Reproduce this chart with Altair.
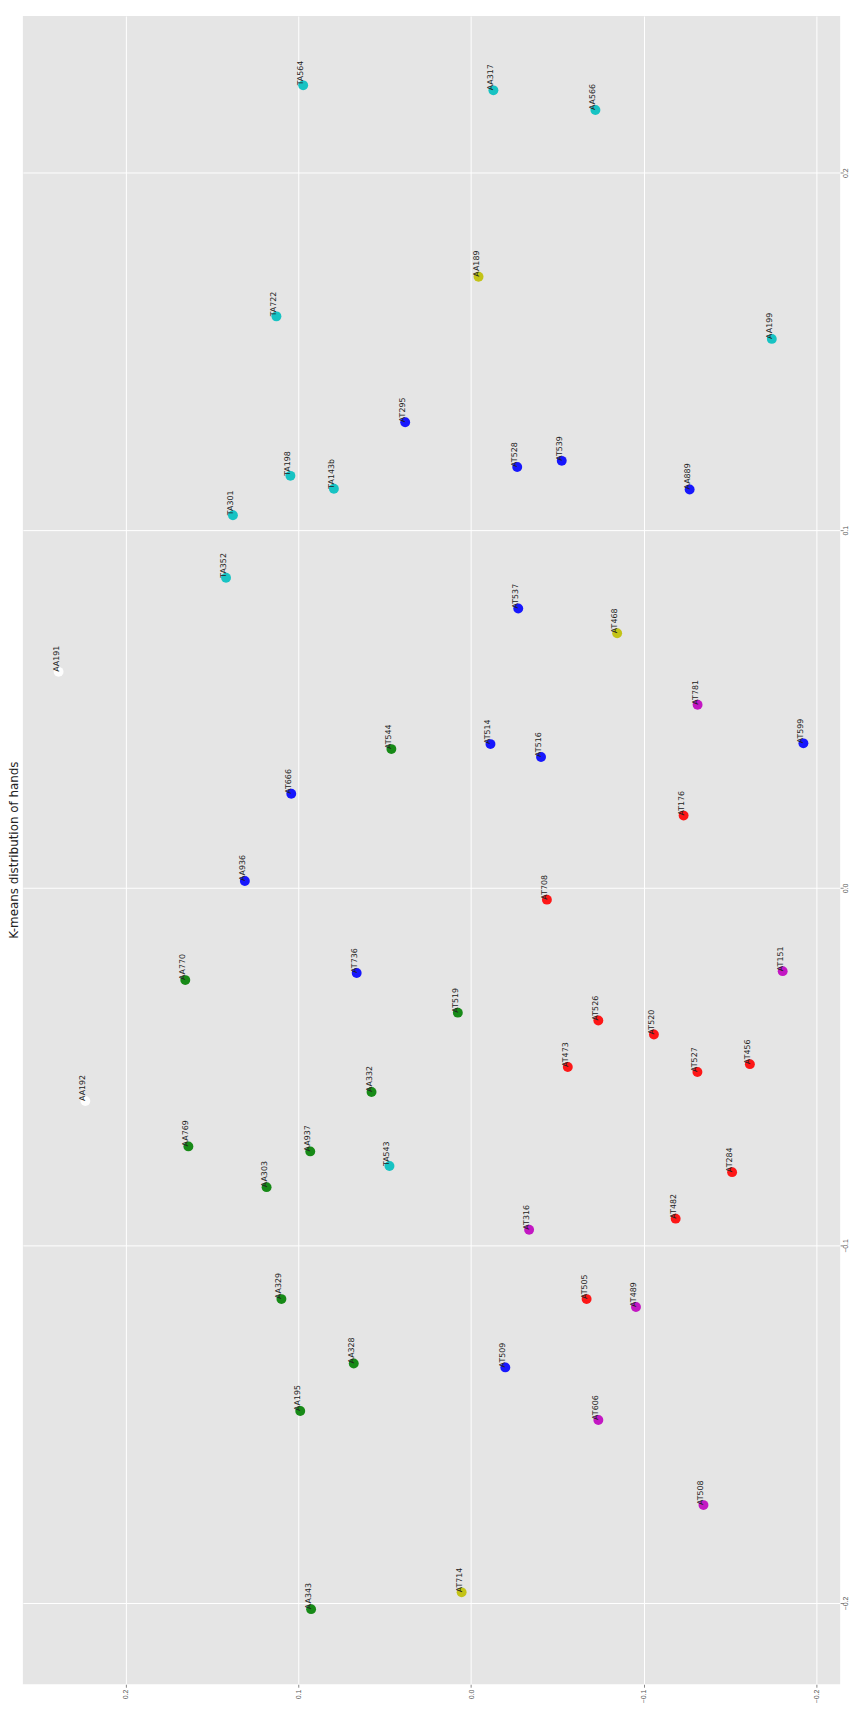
import altair as alt
import pandas as pd

# Hand identifiers
names = ["TA564", "AA317", "AA566", "AA189", "TA722", "AT295", "TA198", "TA143b", "TA301", "TA352",
         "AA199", "AT528", "AT539", "AA889", "AA191", "AT544", "AT666", "AT537", "AT468", "AT781",
         "AT514", "AT516", "AT599", "AT176", "AA936", "AA770", "AT736", "AA192", "AA332", "AT708",
         "AT151", "AT519", "AT526", "AT520", "AT473", "AT527", "AT456", "AA769", "AA937", "TA543",
         "AA303", "AA329", "AA328", "AA195", "AT284", "AT482", "AT316", "AT505", "AT489", "AT509",
         "AT606", "AT508", "AT714", "AA343"]

# First component (drawn along the vertical axis, rotated chart)
pc1 = [0.2244, 0.2230, 0.2175, 0.1709, 0.1598, 0.1302, 0.1152, 0.1116, 0.1042, 0.0867,
       0.1535, 0.1177, 0.1194, 0.1114, 0.0604, 0.0388, 0.0263, 0.0781, 0.0712, 0.0512,
       0.0402, 0.0366, 0.0404, 0.0202, 0.0019, -0.0258, -0.0238, -0.0596, -0.0571, -0.0033,
       -0.0233, -0.0349, -0.0371, -0.0410, -0.0501, -0.0515, -0.0493, -0.0723, -0.0737, -0.0778,
       -0.0837, -0.1150, -0.1330, -0.1463, -0.0795, -0.0925, -0.0956, -0.1150, -0.1172, -0.1341,
       -0.1488, -0.1726, -0.1970, -0.2017]

# Second component (drawn along the horizontal axis, reversed)
pc2 = [0.0973, -0.0129, -0.0720, -0.0043, 0.1128, 0.0382, 0.1047, 0.0795, 0.1380, 0.1420,
       -0.1742, -0.0267, -0.0525, -0.1266, 0.2390, 0.0462, 0.1042, -0.0273, -0.0846, -0.1312,
       -0.0112, -0.0405, -0.1925, -0.1231, 0.1311, 0.1656, 0.0663, 0.2235, 0.0577, -0.0439,
       -0.1805, 0.0077, -0.0737, -0.1059, -0.0560, -0.1311, -0.1615, 0.1638, 0.0932, 0.0473,
       0.1185, 0.1099, 0.0680, 0.0990, -0.1512, -0.1185, -0.0336, -0.0669, -0.0955, -0.0198,
       -0.0737, -0.1346, 0.0055, 0.0927]

# Cluster colours (matplotlib single-letter colours)
cluster = ["c", "c", "c", "y", "c", "b", "c", "c", "c", "c",
           "c", "b", "b", "b", "w", "g", "b", "b", "y", "m",
           "b", "b", "b", "r", "b", "g", "b", "w", "g", "r",
           "m", "g", "r", "r", "r", "r", "r", "g", "g", "c",
           "g", "g", "g", "g", "r", "r", "m", "r", "m", "b",
           "m", "m", "y", "g"]

color_keys = ["b", "g", "r", "c", "m", "y", "w"]
color_vals = ["#0000FF", "#008000", "#FF0000", "#00BFBF", "#BF00BF", "#BFBF00", "#FFFFFF"]

df = pd.DataFrame({"name": names, "pc1": pc1, "pc2": pc2, "cluster": cluster})

x_enc = alt.X("pc2:Q",
              scale=alt.Scale(domain=[-0.2138, 0.2597], reverse=True, nice=False, zero=False),
              axis=alt.Axis(orient="bottom", values=[-0.2, -0.1, 0.0, 0.1, 0.2], format=".1f",
                            title=None, labelAngle=270, labelFontSize=7, labelColor="#555555",
                            tickSize=3, tickColor="#888888", domain=False, gridColor="#FFFFFF",
                            gridWidth=1, labelPadding=2))
y_enc = alt.Y("pc1:Q",
              scale=alt.Scale(domain=[-0.2227, 0.2438], nice=False, zero=False),
              axis=alt.Axis(orient="right", values=[-0.2, -0.1, 0.0, 0.1, 0.2], format=".1f",
                            title=None, labelAngle=270, labelFontSize=7, labelColor="#555555",
                            tickSize=3, tickColor="#888888", domain=False, gridColor="#FFFFFF",
                            gridWidth=1, labelPadding=2, labelAlign="center", labelBaseline="middle"))

base = alt.Chart(df).encode(x=x_enc, y=y_enc)

points = base.mark_circle(size=100, opacity=0.9).encode(
    color=alt.Color("cluster:N", scale=alt.Scale(domain=color_keys, range=color_vals), legend=None)
)

labels = base.mark_text(angle=270, align="left", baseline="alphabetic", fontSize=8,
                        font="DejaVu Sans", color="#222222").encode(text="name:N")

chart = (points + labels).properties(
    width=825, height=1684,
    background="#FFFFFF",
    title=alt.TitleParams("K-means distribution of hands", orient="left", anchor="middle",
                          fontSize=12, font="DejaVu Sans", fontWeight="normal", color="#222222",
                          offset=2),
    autosize=alt.AutoSizeParams(type="none"),
    padding={"left": 15, "top": 0, "right": 17, "bottom": 25},
).configure_view(fill="#E5E5E5", strokeWidth=0)

chart.save("out.html", embed_options={"renderer": "svg", "actions": False})
